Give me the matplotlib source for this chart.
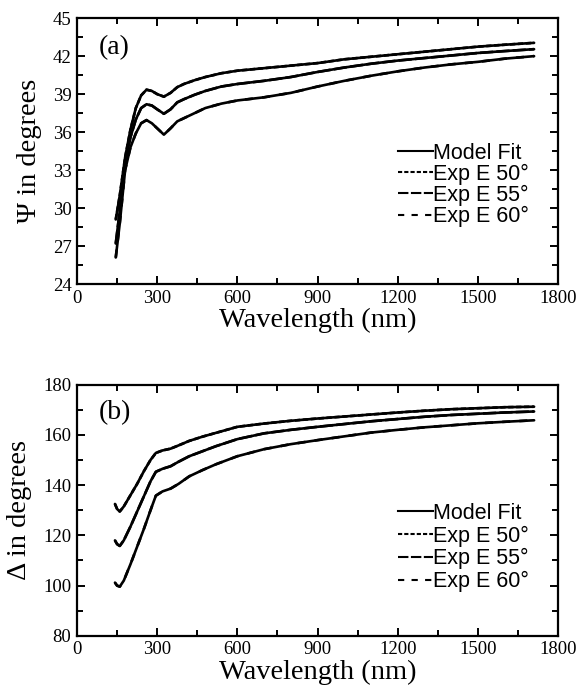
import matplotlib
matplotlib.use("Agg")
import matplotlib.pyplot as plt
from matplotlib.ticker import MultipleLocator

# wavelength grids (nm)
wl_psi = [145, 160, 180, 200, 220, 240, 260, 280, 300, 325, 350, 375, 400, 440, 480,
          540, 600, 700, 800, 900, 1000, 1100, 1200, 1300, 1400, 1500, 1600, 1710]
wl_delta = [142, 150, 160, 175, 200, 225, 250, 275, 295, 320, 350, 380, 420, 470, 520,
            600, 700, 800, 900, 1000, 1100, 1200, 1300, 1400, 1500, 1600, 1710]

# Psi (degrees) at 50, 55, 60 degree incidence
psi_50 = [29.1, 31.0, 34.0, 36.2, 37.9, 38.9, 39.35, 39.25, 39.0, 38.8, 39.1, 39.55, 39.8, 40.1, 40.35,
          40.65, 40.85, 41.05, 41.25, 41.45, 41.75, 41.95, 42.15, 42.35, 42.55, 42.75, 42.9, 43.05]
psi_55 = [27.2, 29.8, 33.6, 35.6, 37.0, 37.9, 38.2, 38.1, 37.8, 37.45, 37.8, 38.35, 38.6, 38.95, 39.25,
          39.6, 39.8, 40.05, 40.35, 40.75, 41.1, 41.4, 41.65, 41.85, 42.05, 42.25, 42.4, 42.55]
psi_60 = [26.1, 28.8, 33.0, 34.8, 35.9, 36.7, 36.95, 36.7, 36.3, 35.8, 36.3, 36.85, 37.1, 37.5, 37.9,
          38.25, 38.5, 38.75, 39.1, 39.6, 40.05, 40.45, 40.8, 41.1, 41.35, 41.55, 41.8, 42.0]

# Delta (degrees)
delta_50 = [132.5, 130.5, 129.5, 131.5, 136.0, 140.5, 145.5, 150.0, 152.8, 153.8, 154.5, 155.8, 157.6, 159.3,
            160.8, 163.2, 164.5, 165.6, 166.5, 167.3, 168.1, 168.9, 169.6, 170.2, 170.6, 171.0, 171.2]
delta_55 = [118.0, 116.5, 115.8, 118.0, 123.5, 129.5, 135.5, 141.5, 145.3, 146.5, 147.5, 149.3, 151.5, 153.5,
            155.5, 158.3, 160.6, 162.0, 163.2, 164.3, 165.4, 166.3, 167.2, 167.9, 168.4, 168.9, 169.3]
delta_60 = [101.2, 100.0, 99.6, 102.0, 108.5, 115.5, 122.5, 130.0, 135.8, 137.5, 138.6, 140.5, 143.5, 146.0,
            148.3, 151.5, 154.3, 156.3, 157.9, 159.4, 160.9, 162.0, 163.0, 163.8, 164.6, 165.2, 165.8]

labels = ["Model Fit", "Exp E 50°", "Exp E 55°", "Exp E 60°"]
exp_dashes = [(2, 1), (5, 1.2), (3, 3.5)]

plt.rcParams['font.family'] = ['Liberation Serif', 'DejaVu Serif']

fig = plt.figure(figsize=(5.79, 6.98), dpi=100)
ax1 = fig.add_axes([0.133, 0.593, 0.831, 0.381])
ax2 = fig.add_axes([0.133, 0.089, 0.831, 0.360])


def draw_panel(ax, wl, curves, ylim, ymaj, ymin, ylabel, tag, legend_y, spacing):
    lw = 1.9
    for y in curves:
        ax.plot(wl, y, color='black', lw=lw, solid_capstyle='round')
    for d, y in zip(exp_dashes, curves):
        ax.plot(wl, y, color='black', lw=lw, dashes=d)
    handles = [plt.Line2D([], [], color='black', lw=1.5)]
    handles += [plt.Line2D([], [], color='black', lw=1.5, dashes=d) for d in exp_dashes]
    ax.legend(handles, labels, loc='upper left', bbox_to_anchor=(0.645, legend_y),
              frameon=False, handlelength=1.6, handletextpad=0.0, labelspacing=spacing,
              borderpad=0, prop={'family': 'Liberation Sans', 'size': 15.5})
    ax.set_xlim(0, 1800)
    ax.set_ylim(*ylim)
    ax.xaxis.set_major_locator(MultipleLocator(300))
    ax.xaxis.set_minor_locator(MultipleLocator(150))
    ax.yaxis.set_major_locator(MultipleLocator(ymaj))
    ax.yaxis.set_minor_locator(MultipleLocator(ymin))
    ax.tick_params(which='both', direction='in', top=True, right=True, width=1.4, labelsize=13.5, pad=4)
    ax.tick_params(which='major', length=6)
    ax.tick_params(which='minor', length=4)
    for s in ax.spines.values():
        s.set_linewidth(1.6)
    ax.set_xlabel("Wavelength (nm)", fontsize=20.5, labelpad=1)
    ax.set_ylabel(ylabel, fontsize=20.5, labelpad=8)
    ax.text(0.045, 0.89, tag, transform=ax.transAxes, fontsize=20, va='center', ha='left')


draw_panel(ax1, wl_psi, [psi_50, psi_55, psi_60], (24, 45), 3, 1.5,
           "Ψ in degrees", "(a)", 0.572, 0.0)
draw_panel(ax2, wl_delta, [delta_50, delta_55, delta_60], (80, 180), 20, 10,
           "Δ in degrees", "(b)", 0.573, 0.08)

fig.savefig("out.png", dpi=100)
